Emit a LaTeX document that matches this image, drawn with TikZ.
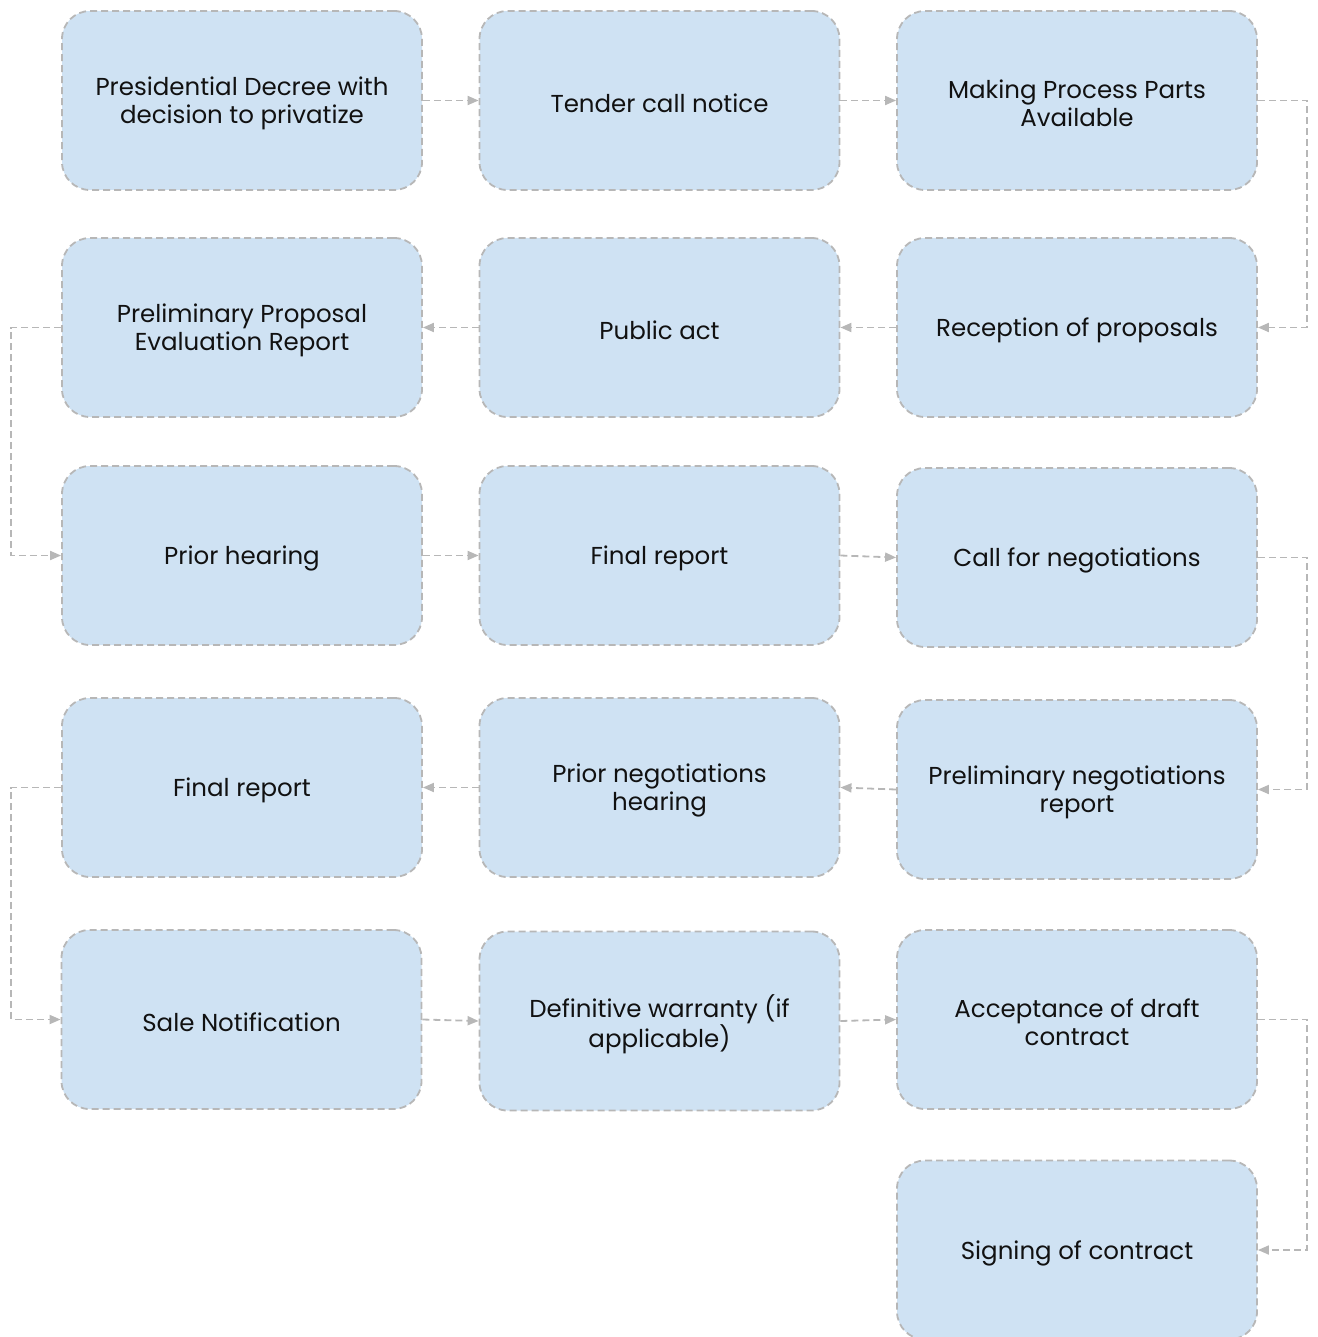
\documentclass[tikz,border=0pt]{standalone}
\usepackage{fontspec}
\setmainfont{Poppins}
\usetikzlibrary{arrows.meta}
\definecolor{boxfill}{HTML}{CFE2F3}
\definecolor{boxline}{HTML}{B7B7B7}
\definecolor{txt}{HTML}{111111}
\tikzset{
  stepbox/.style={draw=boxline, fill=boxfill, dash pattern=on 7pt off 4pt, line width=1.8pt,
    rounded corners=28pt, minimum width=360pt, minimum height=179pt, inner sep=0pt},
  steptext/.style={align=center, text=txt, font=\fontsize{24.5}{28}\selectfont, inner sep=0pt},
  flow/.style={draw=boxline, dash pattern=on 7pt off 4pt, line width=1.8pt,
    -{Triangle[length=11pt,width=9pt,fill=boxline]}}
}
\newcommand\stepnode[3]{%
  \node[stepbox] (#1) at (#2) {};
  \node[steptext] (#1-t) at ([yshift=-3pt]#1.center) {#3};}
\begin{document}
\begin{tikzpicture}[x=1pt,y=-1pt]
\useasboundingbox (0,0) rectangle (1317,1337);
\stepnode{a1}{242,100.5}{Presidential Decree with\\decision to privatize}
\stepnode{a2}{659.5,100.5}{Tender call notice}
\stepnode{a3}{1077,100.5}{Making Process Parts\\Available}
\stepnode{b3}{1077,327.5}{Reception of proposals}
\stepnode{b2}{659.5,327.5}{Public act}
\stepnode{b1}{242,327.5}{Preliminary Proposal\\Evaluation Report}
\stepnode{c1}{242,555.5}{Prior hearing}
\stepnode{c2}{659.5,555.5}{Final report}
\stepnode{c3}{1077,557.5}{Call for negotiations}
\stepnode{d3}{1077,789.5}{Preliminary negotiations\\report}
\stepnode{d2}{659.5,787.5}{Prior negotiations\\hearing}
\stepnode{d1}{242,787.5}{Final report}
\stepnode{e1}{241.5,1019.5}{Sale Notification}
\stepnode{e2}{659.5,1021}{Definitive warranty (if\\applicable)}
\stepnode{e3}{1077,1019.5}{Acceptance of draft\\contract}
\stepnode{f3}{1077,1250}{Signing of contract}
\coordinate (r1) at (1307,0);
\coordinate (l1) at (11,0);
\draw[flow] (a1.east) -- (a2.west);
\draw[flow] (a2.east) -- (a3.west);
\draw[flow] (a3.east) -- (a3.east -| r1) -- (b3.east -| r1) -- (b3.east);
\draw[flow] (b3.west) -- (b2.east);
\draw[flow] (b2.west) -- (b1.east);
\draw[flow] (b1.west) -- (b1.west -| l1) -- (c1.west -| l1) -- (c1.west);
\draw[flow] (c1.east) -- (c2.west);
\draw[flow] (c2.east) -- (c3.west);
\draw[flow] (c3.east) -- (c3.east -| r1) -- (d3.east -| r1) -- (d3.east);
\draw[flow] (d3.west) -- (d2.east);
\draw[flow] (d2.west) -- (d1.east);
\draw[flow] (d1.west) -- (d1.west -| l1) -- (e1.west -| l1) -- (e1.west);
\draw[flow] (e1.east) -- (e2.west);
\draw[flow] (e2.east) -- (e3.west);
\draw[flow] (e3.east) -- (e3.east -| r1) -- (f3.east -| r1) -- (f3.east);
\end{tikzpicture}
\end{document}
